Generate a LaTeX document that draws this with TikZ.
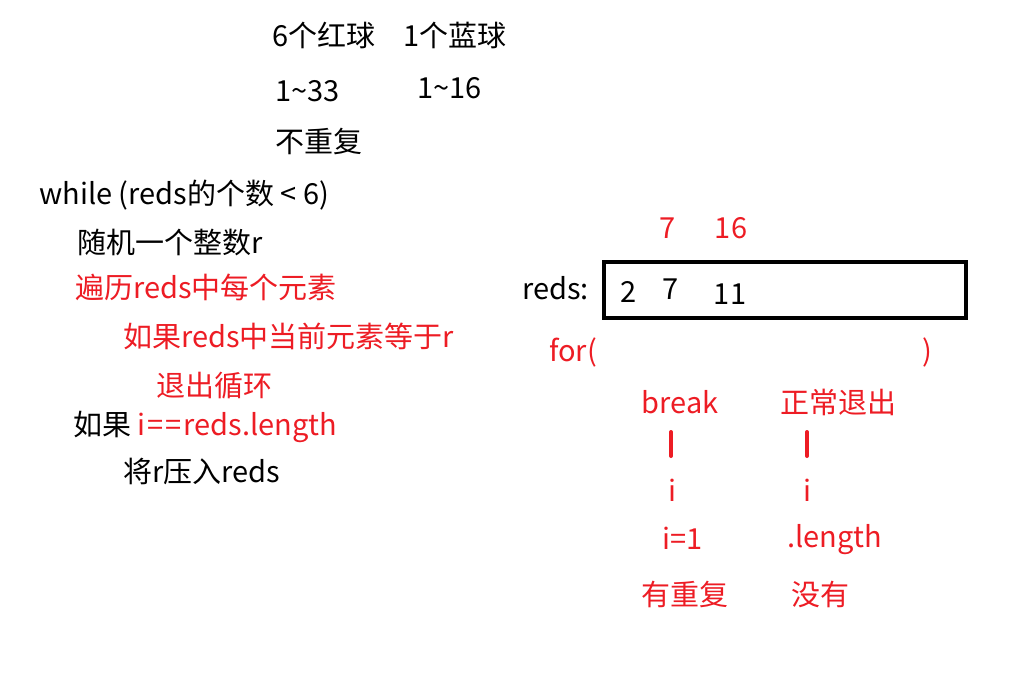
\documentclass[tikz,border=0pt]{standalone}
\usepackage{fontspec}
\setmainfont{Noto Sans CJK SC}
\usetikzlibrary{positioning}
\definecolor{pred}{RGB}{237,28,36}
\tikzset{
  txt/.style={inner sep=0pt, font=\fontsize{29}{34}\selectfont},
  lt/.style={txt, anchor=west},
  rtxt/.style={txt, text=pred},
  bar/.style={draw=pred, line width=4pt, line cap=round}
}
\begin{document}
\begin{tikzpicture}[x=1pt, y=-1pt]
    \useasboundingbox (0,0) rectangle (1018,686);
    % 题目
    \node[lt] (red) at (272,35) {6个红球};
    \node[lt] (blue) at (403,35) {1个蓝球};
    \node[lt] (rrng) at (275,91) {1\char"007E 33};
    \node[lt] (brng) at (417,88) {1\char"007E 16};
    \node[lt] (norep) at (275,141) {不重复};
    % 伪代码
    \node[lt] (wh) at (39,195) {while (reds的个数 < 6)};
    \node[lt] (rnd) at (77,243) {随机一个整数r};
    \node[lt, text=pred] (loop) at (75,287) {遍历reds中每个元素};
    \node[lt, text=pred] (cond) at (123,336) {如果reds中当前元素等于r};
    \node[lt, text=pred] (quit) at (156,386) {退出循环};
    \node[lt] (chk) at (73,427) {如果 \textcolor{pred}{i\kern2pt=\kern2pt=\kern2pt reds.length}};
    \node[lt] (push) at (123,471) {将r压入reds};
    % 数组
    \node[lt] (lbl) at (522,288) {reds:};
    \draw[line width=4pt] (604,262) rectangle (966,318);
    \node[txt] (e1) at (629,292) {2};
    \node[txt] (e2) at (671,289) {7};
    \node[txt] (e3) at (730,294) {11};
    \node[rtxt] (n1) at (668,228) {7};
    \node[rtxt] (n2) at (731,228) {16};
    % for 循环
    \node[lt, text=pred] (fo) at (549,352) {for(};
    \node[rtxt] (fc) at (927,352) {)};
    \node[rtxt] (brk) at (680,402) {break};
    \node[rtxt] (nrm) at (838,402) {正常退出};
    \coordinate (b1a) at (671,432);
    \coordinate (b1b) at (671,456);
    \coordinate (b2a) at (807,432);
    \coordinate (b2b) at (807,456);
    \draw[bar] (b1a) -- (b1b);
    \draw[bar] (b2a) -- (b2b);
    \node[rtxt] (i1) at (672,490) {i};
    \node[rtxt] (i2) at (807,490) {i};
    \node[rtxt] (v1) at (683,538) {i=1};
    \node[rtxt] (v2) at (835,540) {.length};
    \node[rtxt] (r1) at (685,594) {有重复};
    \node[rtxt] (r2) at (820,594) {没有};
\end{tikzpicture}
\end{document}
